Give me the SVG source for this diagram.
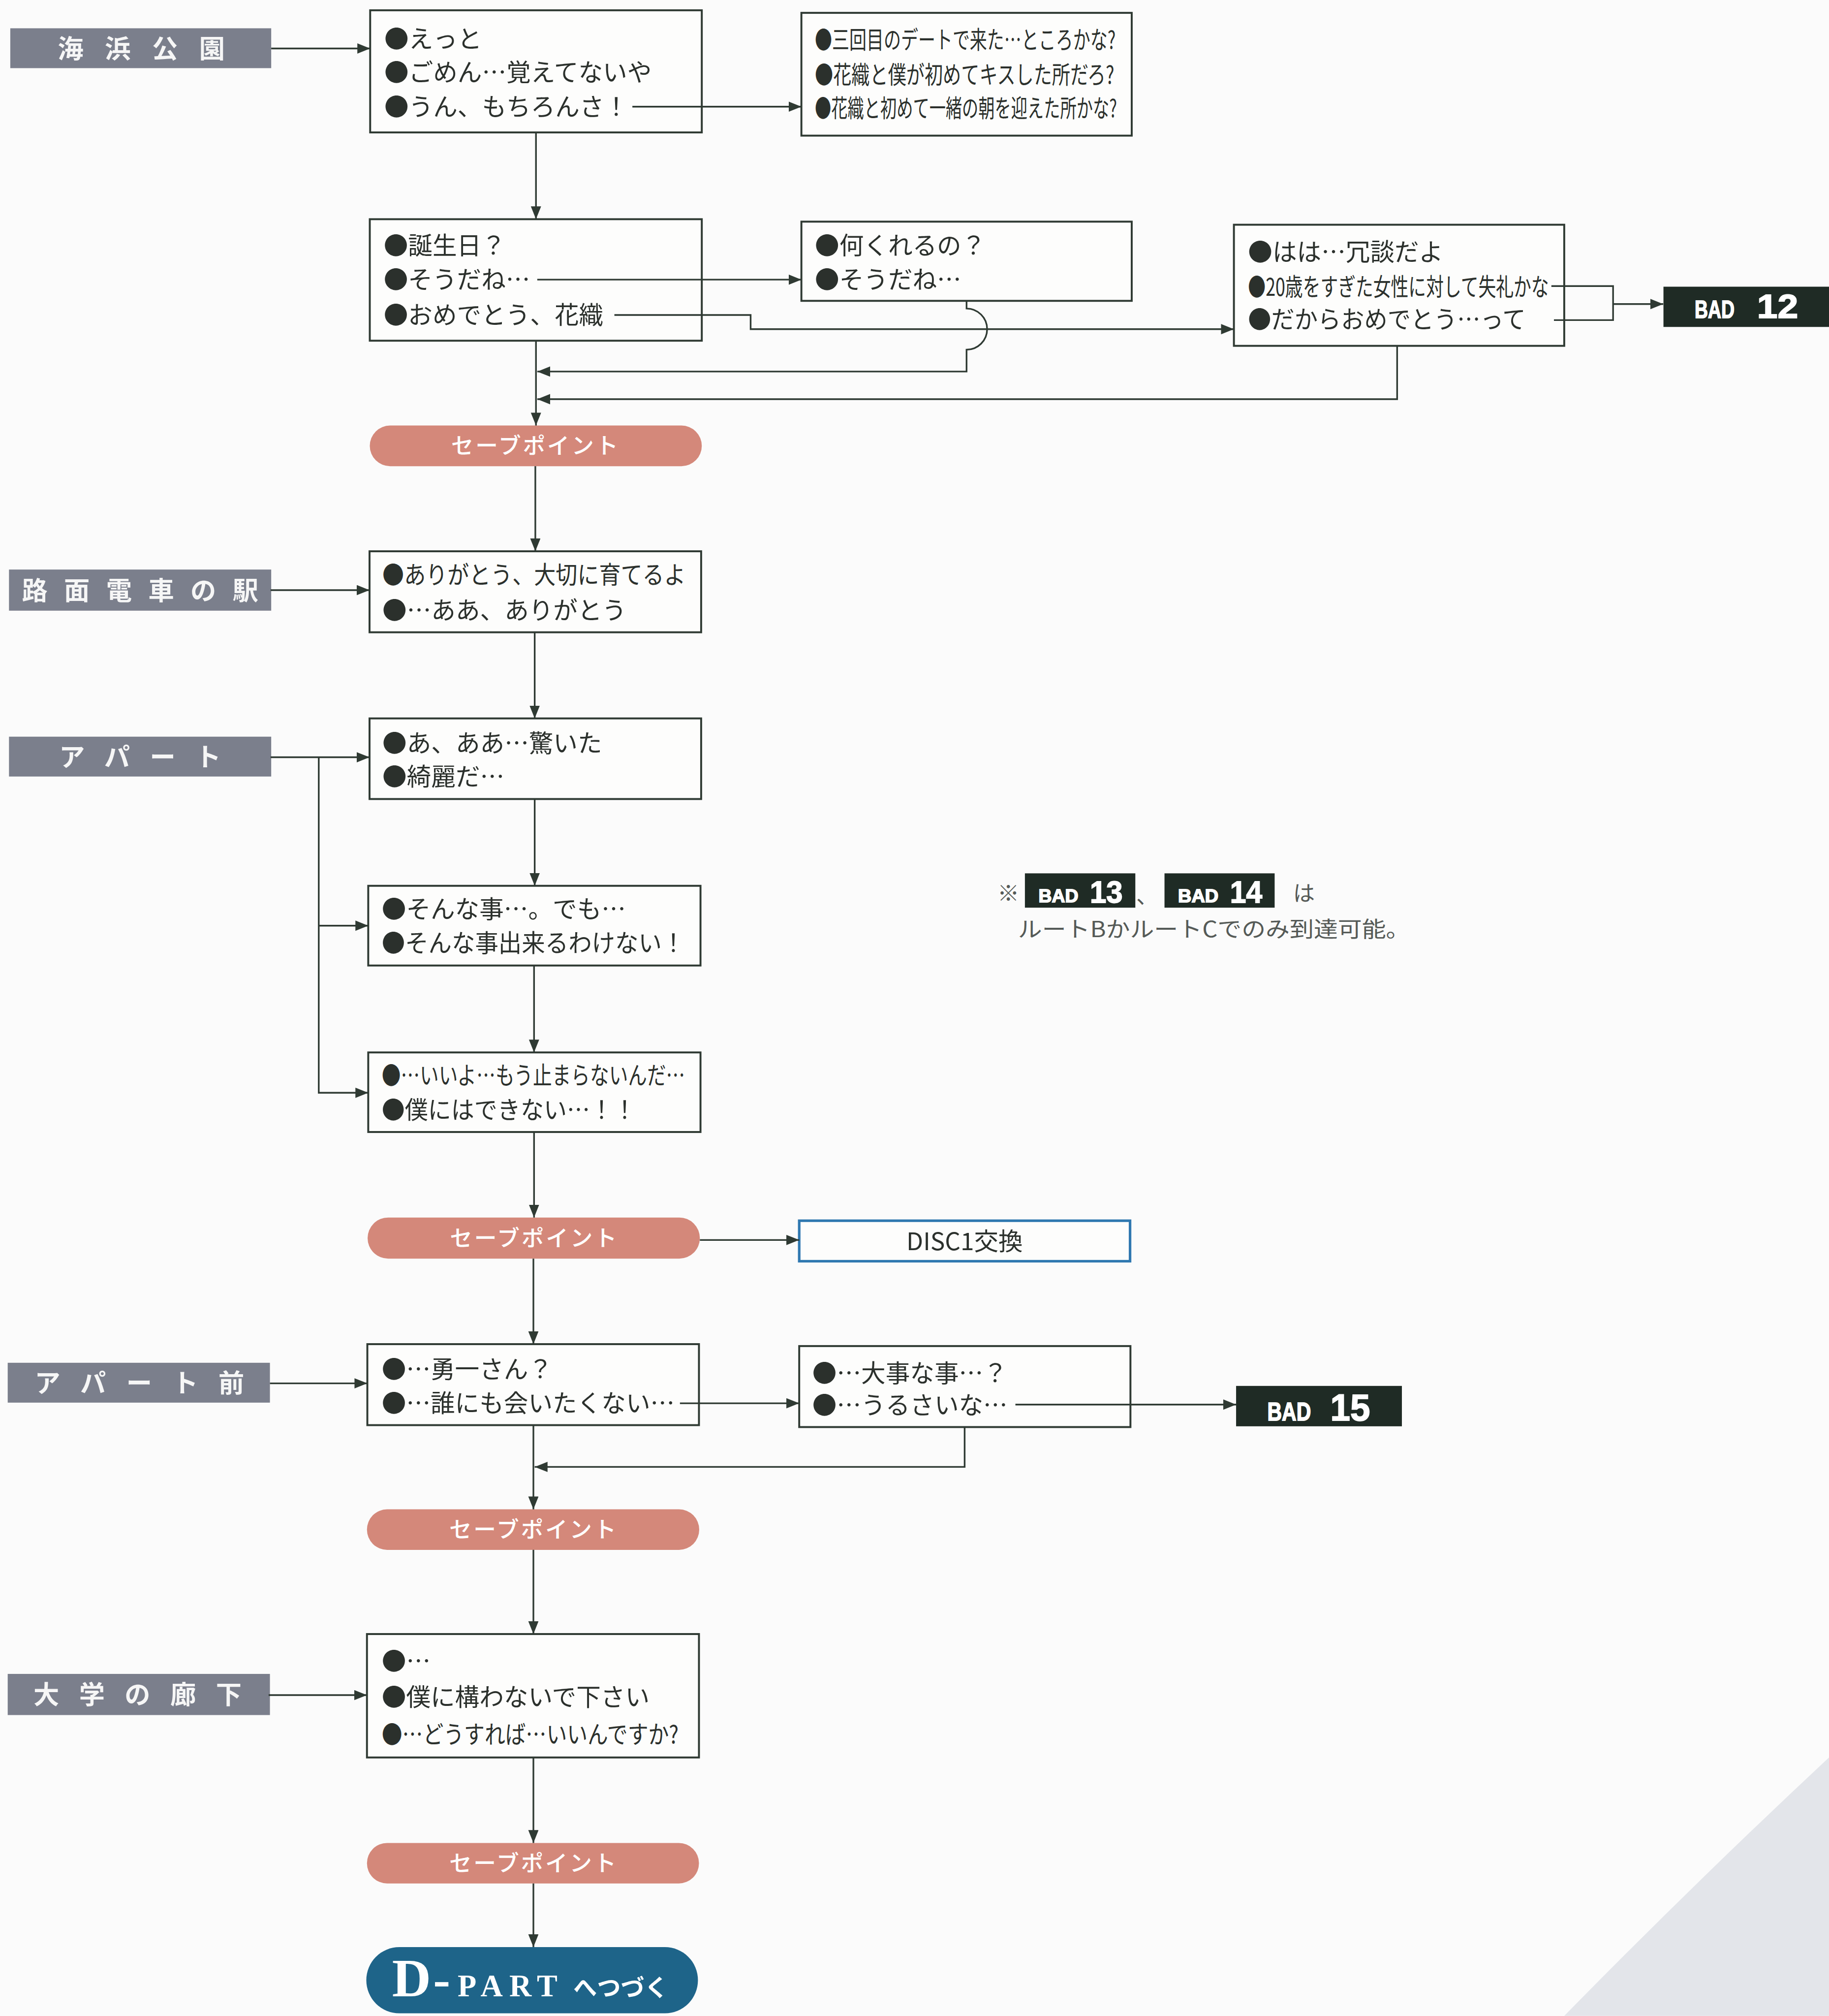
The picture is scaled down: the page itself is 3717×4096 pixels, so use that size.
<svg xmlns="http://www.w3.org/2000/svg" width="3717" height="4096" viewBox="0 0 3717 4096">
<style>
.bg{fill:#fbfbfb}
.box{fill:#fdfdfc;stroke:#2f3a33;stroke-width:1.5}
.disc{fill:#fdfdfc;stroke:#2f78b0;stroke-width:2}
.lblb{fill:#7b7f8c}
.spb{fill:#d4887a}
.badb{fill:#1f2b25}
.dpb{fill:#1e6489}
.con{fill:none;stroke:#2f3a33;stroke-width:1.3;stroke-linejoin:miter}
.t{font-family:"Noto Sans CJK JP","Liberation Sans",sans-serif;font-size:19px;fill:#2b302c}
.lbl{font-family:"Noto Sans CJK JP","Liberation Sans",sans-serif;font-size:20px;font-weight:700;fill:#f6f6f6}
.sp{font-family:"Noto Sans CJK JP","Liberation Sans",sans-serif;font-size:17.5px;font-weight:500;fill:#ffffff}
.bw{font-family:"Liberation Sans","Noto Sans CJK JP",sans-serif;font-weight:700;fill:#ffffff;stroke:#ffffff;stroke-width:0.7}
.note{font-family:"Noto Sans CJK JP","Liberation Sans",sans-serif;font-size:17px;fill:#555a57}
.dp{font-family:"Liberation Serif","Noto Sans CJK JP",serif;font-weight:700;fill:#ffffff}
</style>
<defs>
<marker id="ah" markerUnits="userSpaceOnUse" markerWidth="11" markerHeight="9" refX="10" refY="4" orient="auto">
<path d="M0,0 L10,4 L0,8 z" fill="#2f3a33"/>
</marker>
</defs>
<rect class="bg" x="0" y="0" width="3717" height="4096"/>
<g transform="scale(2.6121)">
<path id="corner-shape" d="M1423,1367 Q1318,1465 1217,1568 L1423,1568 Z" fill="#e3e5ea"/>

<g id="loc-kaihin">
<rect class="lblb" x="8" y="22" width="203" height="31"/>
<text class="lbl" x="45" y="45" textLength="130" lengthAdjust="spacing">海浜公園</text>
</g>
<g id="loc-romen">
<rect class="lblb" x="7" y="443" width="204" height="32"/>
<text class="lbl" x="17" y="466.5" textLength="184" lengthAdjust="spacing">路面電車の駅</text>
</g>
<g id="loc-apart">
<rect class="lblb" x="7" y="573" width="204" height="31"/>
<text class="lbl" x="46" y="596" textLength="126" lengthAdjust="spacing">アパート</text>
</g>
<g id="loc-apartmae">
<rect class="lblb" x="6" y="1060" width="204" height="31"/>
<text class="lbl" x="27" y="1083" textLength="163" lengthAdjust="spacing">アパート前</text>
</g>
<g id="loc-daigaku">
<rect class="lblb" x="6" y="1302" width="204" height="32"/>
<text class="lbl" x="26" y="1325.5" textLength="162" lengthAdjust="spacing">大学の廊下</text>
</g>

<g id="box1">
<rect class="box" x="288" y="8" width="258" height="95"/>
<text class="t" x="299" y="37">●えっと</text>
<text class="t" x="299" y="63">●ごめん…覚えてないや</text>
<text class="t" x="299" y="90">●うん、もちろんさ！</text>
</g>
<g id="box2">
<rect class="box" x="623.5" y="10" width="257" height="95.5"/>
<text class="t" x="634" y="38" textLength="234" lengthAdjust="spacingAndGlyphs">●三回目のデートで来た…ところかな?</text>
<text class="t" x="634" y="65" textLength="233" lengthAdjust="spacingAndGlyphs">●花織と僕が初めてキスした所だろ?</text>
<text class="t" x="634" y="91" textLength="235" lengthAdjust="spacingAndGlyphs">●花織と初めて一緒の朝を迎えた所かな?</text>
</g>
<g id="box3">
<rect class="box" x="287.7" y="170.5" width="258.3" height="94.5"/>
<text class="t" x="298.5" y="198">●誕生日？</text>
<text class="t" x="298.5" y="224.5">●そうだね…</text>
<text class="t" x="298.5" y="252">●おめでとう、花織</text>
</g>
<g id="box4">
<rect class="box" x="623.5" y="172.4" width="257" height="61.6"/>
<text class="t" x="634" y="198">●何くれるの？</text>
<text class="t" x="634" y="224.5">●そうだね…</text>
</g>
<g id="box5">
<rect class="box" x="960" y="174.8" width="257" height="94.2"/>
<text class="t" x="971" y="203">●はは…冗談だよ</text>
<text class="t" x="971" y="230" textLength="234" lengthAdjust="spacingAndGlyphs">●20歳をすぎた女性に対して失礼かな</text>
<text class="t" x="971" y="255.5" textLength="216" lengthAdjust="spacingAndGlyphs">●だからおめでとう…って</text>
</g>
<g id="bad12">
<rect class="badb" x="1294.2" y="223" width="128.8" height="31.3"/>
<text class="bw" x="1318.5" y="247.5" font-size="19" textLength="31" lengthAdjust="spacingAndGlyphs">BAD</text>
<text class="bw" x="1367" y="247.5" font-size="26" textLength="32" lengthAdjust="spacingAndGlyphs">12</text>
</g>
<g id="save1">
<rect class="spb" x="287.7" y="331" width="258.3" height="31.6" rx="15.8"/>
<text class="sp" x="351" y="353" textLength="130" lengthAdjust="spacing">セーブポイント</text>
</g>
<g id="box6">
<rect class="box" x="287.5" y="428.8" width="258" height="63"/>
<text class="t" x="297.5" y="454" textLength="236" lengthAdjust="spacingAndGlyphs">●ありがとう、大切に育てるよ</text>
<text class="t" x="297.5" y="481.5">●…ああ、ありがとう</text>
</g>
<g id="box7">
<rect class="box" x="287.5" y="558.8" width="258" height="62.7"/>
<text class="t" x="297.5" y="585">●あ、ああ…驚いた</text>
<text class="t" x="297.5" y="611">●綺麗だ…</text>
</g>
<g id="box8">
<rect class="box" x="286.5" y="689" width="258.5" height="62"/>
<text class="t" x="297" y="714">●そんな事…。でも…</text>
<text class="t" x="297" y="740.5" textLength="236" lengthAdjust="spacingAndGlyphs">●そんな事出来るわけない！</text>
</g>
<g id="box9">
<rect class="box" x="286.5" y="818.6" width="258.5" height="61.9"/>
<text class="t" x="297" y="843.5" textLength="236" lengthAdjust="spacingAndGlyphs">●…いいよ…もう止まらないんだ…</text>
<text class="t" x="297" y="870" textLength="198" lengthAdjust="spacingAndGlyphs">●僕にはできない…！！</text>
</g>
<g id="save2">
<rect class="spb" x="286" y="947" width="258.5" height="32" rx="16"/>
<text class="sp" x="350" y="969.5" textLength="130" lengthAdjust="spacing">セーブポイント</text>
</g>
<g id="disc1">
<rect class="disc" x="621.8" y="949.5" width="257.4" height="31.5"/>
<text class="t" x="750.5" y="972.5" font-size="18" text-anchor="middle">DISC1交換</text>
</g>
<g id="box10">
<rect class="box" x="285.8" y="1045.5" width="258" height="63"/>
<text class="t" x="297" y="1072">●…勇一さん？</text>
<text class="t" x="297" y="1098.5">●…誰にも会いたくない…</text>
</g>
<g id="box11">
<rect class="box" x="621.8" y="1047" width="257.7" height="63"/>
<text class="t" x="632" y="1075">●…大事な事…？</text>
<text class="t" x="632" y="1100">●…うるさいな…</text>
</g>
<g id="bad15">
<rect class="badb" x="961.7" y="1078" width="129" height="31.4"/>
<text class="bw" x="986" y="1104.7" font-size="20" textLength="34" lengthAdjust="spacingAndGlyphs">BAD</text>
<text class="bw" x="1035" y="1104.7" font-size="29" textLength="31" lengthAdjust="spacingAndGlyphs">15</text>
</g>
<g id="save3">
<rect class="spb" x="285.5" y="1174" width="258.5" height="31.5" rx="15.7"/>
<text class="sp" x="349.5" y="1196" textLength="130" lengthAdjust="spacing">セーブポイント</text>
</g>
<g id="box12">
<rect class="box" x="285.5" y="1271" width="258.3" height="96"/>
<text class="t" x="297" y="1299">●…</text>
<text class="t" x="297" y="1327">●僕に構わないで下さい</text>
<text class="t" x="297" y="1356" textLength="231" lengthAdjust="spacingAndGlyphs">●…どうすれば…いいんですか?</text>
</g>
<g id="save4">
<rect class="spb" x="285.5" y="1433.5" width="258.3" height="31.5" rx="15.7"/>
<text class="sp" x="349.5" y="1455.5" textLength="130" lengthAdjust="spacing">セーブポイント</text>
</g>
<g id="dpart">
<rect class="dpb" x="285" y="1514.5" width="258" height="51.5" rx="25.7"/>
<text class="dp" y="1552.6"><tspan x="305" font-size="42">D</tspan><tspan x="337" font-size="40">-</tspan><tspan x="356" font-size="24" letter-spacing="5">PART</tspan><tspan x="446" font-size="18.5" font-family="Noto Sans CJK JP, sans-serif">へつづく</tspan></text>
</g>

<g id="note">
<text class="note" x="776" y="701">※</text>
<rect class="badb" x="797.4" y="679.3" width="85.9" height="26.7"/>
<text class="bw" x="808" y="701.6" font-size="14" textLength="31" lengthAdjust="spacingAndGlyphs">BAD</text>
<text class="bw" x="848" y="702" font-size="24" textLength="25.5" lengthAdjust="spacingAndGlyphs">13</text>
<text class="note" x="884" y="703">、</text>
<rect class="badb" x="906" y="679.3" width="85.7" height="26.7"/>
<text class="bw" x="916.5" y="701.6" font-size="14" textLength="31.5" lengthAdjust="spacingAndGlyphs">BAD</text>
<text class="bw" x="957" y="702" font-size="24" textLength="25" lengthAdjust="spacingAndGlyphs">14</text>
<text class="note" x="1006" y="701">は</text>
<text class="note" x="792" y="729" textLength="305" lengthAdjust="spacingAndGlyphs">ルートBかルートCでのみ到達可能。</text>
</g>

<g id="connectors">
<path class="con" d="M211,37.7 H288" marker-end="url(#ah)"/>
<path class="con" d="M492,83 H623.5" marker-end="url(#ah)"/>
<path class="con" d="M417,103 V170.5" marker-end="url(#ah)"/>
<path class="con" d="M418,217.5 H623.5" marker-end="url(#ah)"/>
<path class="con" d="M478,245 H584 V256 H960" marker-end="url(#ah)"/>
<path class="con" d="M752,234 V240 A16,16 0 0 1 752,272 V289 H418" marker-end="url(#ah)"/>
<path class="con" d="M1087,269 V310.5 H418" marker-end="url(#ah)"/>
<path class="con" d="M1207,222.5 H1255 V249 H1209"/>
<path class="con" d="M1255,236.5 H1294" marker-end="url(#ah)"/>
<path class="con" d="M417,265 V331" marker-end="url(#ah)"/>
<path class="con" d="M416.5,362.6 V428.8" marker-end="url(#ah)"/>
<path class="con" d="M210.5,459 H287.5" marker-end="url(#ah)"/>
<path class="con" d="M416,491.8 V558.8" marker-end="url(#ah)"/>
<path class="con" d="M210.5,589 H287.5" marker-end="url(#ah)"/>
<path class="con" d="M248,589 V850 H286.5" marker-end="url(#ah)"/>
<path class="con" d="M248,720 H286.5" marker-end="url(#ah)"/>
<path class="con" d="M416,621.5 V689" marker-end="url(#ah)"/>
<path class="con" d="M415.5,751 V818.6" marker-end="url(#ah)"/>
<path class="con" d="M415.5,880.5 V947" marker-end="url(#ah)"/>
<path class="con" d="M544.5,964.5 H621.8" marker-end="url(#ah)"/>
<path class="con" d="M415,979 V1045.5" marker-end="url(#ah)"/>
<path class="con" d="M210,1076 H285.8" marker-end="url(#ah)"/>
<path class="con" d="M529,1091.5 H621.8" marker-end="url(#ah)"/>
<path class="con" d="M790,1092.5 H961.7" marker-end="url(#ah)"/>
<path class="con" d="M750.5,1110 V1141 H416" marker-end="url(#ah)"/>
<path class="con" d="M415,1108.5 V1174" marker-end="url(#ah)"/>
<path class="con" d="M415,1205.5 V1271" marker-end="url(#ah)"/>
<path class="con" d="M209,1318.5 H285.5" marker-end="url(#ah)"/>
<path class="con" d="M415,1367 V1433.5" marker-end="url(#ah)"/>
<path class="con" d="M415,1465 V1514.5" marker-end="url(#ah)"/>
</g>
</g>
</svg>
